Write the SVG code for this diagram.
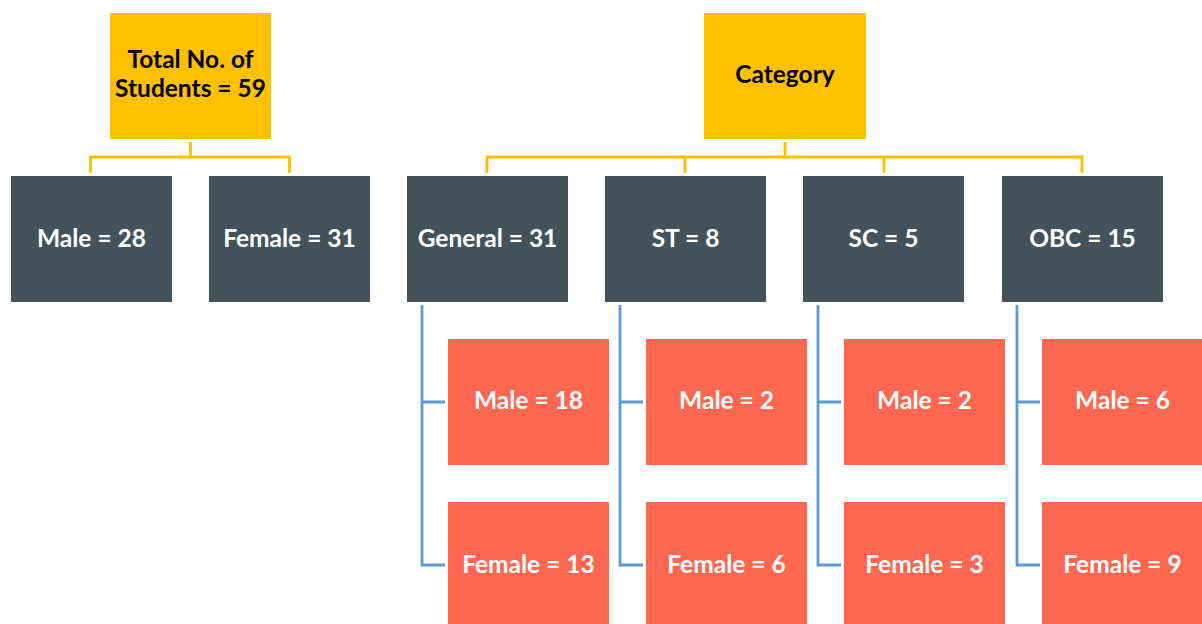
<svg xmlns="http://www.w3.org/2000/svg" width="1202" height="624" viewBox="0 0 1202 624">
<style>
.gold{fill:#FFC000}
.slate{fill:#44525B}
.red{fill:#FF6751}
.t{font-family:Lato,"Open Sans","Liberation Sans",sans-serif;font-weight:bold;font-size:24.5px;text-anchor:middle}
.dk{fill:#000}
.wh{fill:#fff}
.cg{fill:none;stroke:#FFC000;stroke-width:2.8}
.cb{fill:none;stroke:#5B9BD5;stroke-width:2.8}
</style>
<rect width="1202" height="624" fill="#fff"/>
<g id="connectors">
<path class="cg" d="M190.5 142V157M90.5 173V157H289.5V173"/>
<path class="cg" d="M785 142V157M487 173V157H1082V173M685 157V173M884 157V173"/>
<path class="cb" d="M422 305V565H445M422 402H445"/>
<path class="cb" d="M620 305V565H643M620 402H643"/>
<path class="cb" d="M818 305V565H841M818 402H841"/>
<path class="cb" d="M1017 305V565H1040M1017 402H1040"/>
</g>
<g id="total"><rect class="gold" x="110" y="13" width="161" height="126"/><text class="t dk" x="190.5" y="68">Total No. of</text><text class="t dk" x="190.5" y="97">Students = 59</text></g>
<g id="category"><rect class="gold" x="704" y="13" width="162" height="126"/><text class="t dk" x="785" y="83">Category</text></g>
<g id="male"><rect class="slate" x="11" y="176" width="161" height="126"/><text class="t wh" x="91.5" y="247">Male = 28</text></g>
<g id="female"><rect class="slate" x="209" y="176" width="161" height="126"/><text class="t wh" x="289.5" y="247">Female = 31</text></g>
<g id="general"><rect class="slate" x="407" y="176" width="161" height="126"/><text class="t wh" x="487.5" y="247">General = 31</text></g>
<g id="st"><rect class="slate" x="605" y="176" width="161" height="126"/><text class="t wh" x="685.5" y="247">ST = 8</text></g>
<g id="sc"><rect class="slate" x="803" y="176" width="161" height="126"/><text class="t wh" x="883.5" y="247">SC = 5</text></g>
<g id="obc"><rect class="slate" x="1002" y="176" width="161" height="126"/><text class="t wh" x="1082.5" y="247">OBC = 15</text></g>
<g id="gen-male"><rect class="red" x="448" y="339" width="161" height="126"/><text class="t wh" x="528.5" y="409">Male = 18</text></g>
<g id="gen-female"><rect class="red" x="448" y="502" width="161" height="126"/><text class="t wh" x="528.5" y="573">Female = 13</text></g>
<g id="st-male"><rect class="red" x="646" y="339" width="161" height="126"/><text class="t wh" x="726.5" y="409">Male = 2</text></g>
<g id="st-female"><rect class="red" x="646" y="502" width="161" height="126"/><text class="t wh" x="726.5" y="573">Female = 6</text></g>
<g id="sc-male"><rect class="red" x="844" y="339" width="161" height="126"/><text class="t wh" x="924.5" y="409">Male = 2</text></g>
<g id="sc-female"><rect class="red" x="844" y="502" width="161" height="126"/><text class="t wh" x="924.5" y="573">Female = 3</text></g>
<g id="obc-male"><rect class="red" x="1042" y="339" width="161" height="126"/><text class="t wh" x="1122.5" y="409">Male = 6</text></g>
<g id="obc-female"><rect class="red" x="1042" y="502" width="161" height="126"/><text class="t wh" x="1122.5" y="573">Female = 9</text></g>
</svg>
